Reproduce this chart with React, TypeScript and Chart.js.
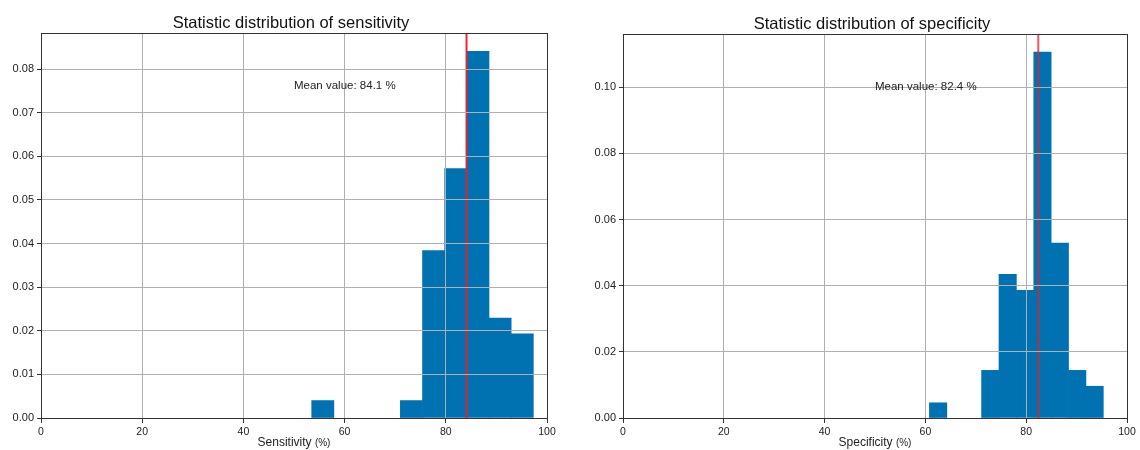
import React, { useEffect, useRef } from "react";
import { Chart, registerables } from "chart.js";

Chart.register(...registerables);

// ---- data ----
const sensBinEdges = [53.5, 57.88, 62.26, 66.64, 71.02, 75.4, 79.78, 84.16, 88.54, 92.92, 97.3];
const sensDensity = [0.004, 0, 0, 0, 0.004, 0.0384, 0.0572, 0.0841, 0.0229, 0.0193];
const sensMean = 84.1;
const sensYMax = 0.0883;

const specBinEdges = [60.8, 64.25, 67.7, 71.15, 74.6, 78.05, 81.5, 84.95, 88.4, 91.85, 95.3];
const specDensity = [0.0046, 0, 0, 0.0144, 0.0434, 0.0386, 0.1106, 0.0529, 0.0144, 0.0096];
const specMean = 82.4;
const specYMax = 0.1161;

const xTickStep = 20;
const sensYStep = 0.01;
const specYStep = 0.02;
const meanTextX = 50;
const sensMeanTextY = 0.0761;
const specMeanTextY = 0.1002;

const BAR_COLOR = "#0072b2";
const FONT = "'Liberation Sans', Arial, sans-serif";

type Cfg = {
  edges: number[];
  density: number[];
  mean: number;
  yMax: number;
  yStep: number;
  title: string;
  xLabel: string;
  meanTextY: number;
  lineColor: string;
  yAxisWidth: number;
  padTop: number;
};

function makeChart(canvas: HTMLCanvasElement, c: Cfg) {
  const bars = c.density
    .map((d, i) => ({ x: (c.edges[i] + c.edges[i + 1]) / 2, y: d }))
    .filter((b) => b.y > 0);
  const meanLine = [
    { x: c.mean, y: 0 },
    { x: c.mean, y: c.yMax },
  ];
  const deco = {
    id: "deco",
    afterDraw(chart: any) {
      const ctx = chart.ctx;
      const a = chart.chartArea;
      const xs = chart.scales.x;
      const ys = chart.scales.y;
      ctx.save();
      // frame
      ctx.strokeStyle = "#333333";
      ctx.lineWidth = 1;
      ctx.strokeRect(Math.round(a.left) + 0.5, Math.round(a.top) + 0.5, Math.round(a.right - a.left), Math.round(a.bottom - a.top));
      // title
      ctx.fillStyle = "#111111";
      ctx.font = `16.5px ${FONT}`;
      ctx.textAlign = "center";
      ctx.textBaseline = "alphabetic";
      ctx.fillText(c.title, (a.left + a.right) / 2 - 3, a.top - 5);
      // mean text
      ctx.font = `11.5px ${FONT}`;
      ctx.textAlign = "left";
      ctx.textBaseline = "middle";
      ctx.fillStyle = "#222222";
      ctx.fillText(`Mean value: ${c.mean} %`, xs.getPixelForValue(meanTextX), ys.getPixelForValue(c.meanTextY));
      // x label
      const main = c.xLabel + " ";
      const sub = "(%)";
      ctx.font = `12px ${FONT}`;
      const w1 = ctx.measureText(main).width;
      ctx.font = `10px ${FONT}`;
      const w2 = ctx.measureText(sub).width;
      const cx = (a.left + a.right) / 2;
      const x0 = cx - (w1 + w2) / 2;
      ctx.textBaseline = "alphabetic";
      ctx.font = `12px ${FONT}`;
      ctx.fillText(main, x0, 446);
      ctx.font = `10px ${FONT}`;
      ctx.fillText(sub, x0 + w1, 446);
      ctx.restore();
    },
  };

  return new Chart(canvas, {
    type: "bar",
    data: {
      datasets: [
        {
          type: "line",
          data: meanLine,
          borderColor: c.lineColor,
          borderWidth: 2,
          pointRadius: 0,
          order: 1,
        } as any,
        {
          type: "bar",
          data: bars,
          backgroundColor: BAR_COLOR,
          borderWidth: 0,
          barPercentage: 1,
          categoryPercentage: 1,
          order: 2,
        } as any,
      ],
    },
    options: {
      animation: false,
      responsive: false,
      devicePixelRatio: 1,
      layout: { padding: { top: c.padTop, right: 13, left: 0, bottom: 0 } },
      plugins: { legend: { display: false }, tooltip: { enabled: false }, title: { display: false } },
      scales: {
        x: {
          type: "linear",
          min: 0,
          max: 100,
          offset: false,
          grid: { color: "#b0b0b0", lineWidth: 1, z: 1, tickLength: 5, tickColor: "#333333", offset: false },
          border: { display: false },
          ticks: { stepSize: xTickStep, font: { size: 10.5, family: FONT }, color: "#222222", padding: 3, maxRotation: 0 },
          afterFit: (s: any) => {
            s.height = 32;
          },
        },
        y: {
          type: "linear",
          min: 0,
          max: c.yMax,
          grid: { color: "#b0b0b0", lineWidth: 1, z: 1, tickLength: 4, tickColor: "#333333" },
          border: { display: false },
          ticks: {
            stepSize: c.yStep,
            includeBounds: false,
            font: { size: 11, family: FONT },
            color: "#222222",
            padding: 3,
            callback: (v: any) => Number(v).toFixed(2),
          },
          afterFit: (s: any) => {
            s.width = c.yAxisWidth;
          },
        },
      },
    },
    plugins: [deco],
  } as any);
}

export default function App() {
  const leftRef = useRef<HTMLCanvasElement>(null);
  const rightRef = useRef<HTMLCanvasElement>(null);
  useEffect(() => {
    const l = makeChart(leftRef.current!, {
      edges: sensBinEdges,
      density: sensDensity,
      mean: sensMean,
      yMax: sensYMax,
      yStep: sensYStep,
      title: "Statistic distribution of sensitivity",
      xLabel: "Sensitivity",
      meanTextY: sensMeanTextY,
      lineColor: "rgba(232,30,36,0.95)",
      yAxisWidth: 41,
      padTop: 33,
    });
    const r = makeChart(rightRef.current!, {
      edges: specBinEdges,
      density: specDensity,
      mean: specMean,
      yMax: specYMax,
      yStep: specYStep,
      title: "Statistic distribution of specificity",
      xLabel: "Specificity",
      meanTextY: specMeanTextY,
      lineColor: "rgba(232,30,36,0.75)",
      yAxisWidth: 63,
      padTop: 34,
    });
    return () => {
      l.destroy();
      r.destroy();
    };
  }, []);
  return (
    <div style={{ position: "fixed", left: 0, top: 0, width: 1140, height: 450, background: "#fff" }}>
      <canvas ref={leftRef} width={560} height={450} style={{ position: "absolute", left: 0, top: 0 }} />
      <canvas ref={rightRef} width={580} height={450} style={{ position: "absolute", left: 560, top: 0 }} />
    </div>
  );
}
